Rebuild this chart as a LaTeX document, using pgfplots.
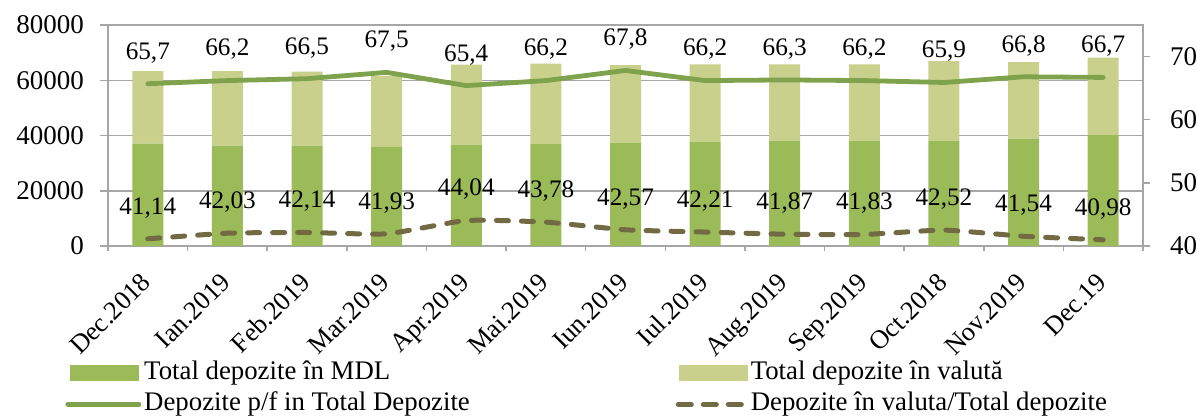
\documentclass[border=0pt]{standalone}
\usepackage{fontspec}
\setmainfont{Liberation Serif}
\usepackage{pgfplots}
\pgfplotsset{compat=1.18}
\usepackage{pgfplotstable}
\definecolor{mdl}{HTML}{9BBB59}
\definecolor{val}{HTML}{C9D08C}
\definecolor{pf}{HTML}{7FA34C}
\definecolor{vd}{HTML}{716A42}
\definecolor{grd}{HTML}{A6A6A6}
\newcommand\cf{\fontsize{12pt}{14pt}\selectfont}
\newcommand\lf{\fontsize{13.4pt}{15pt}\selectfont}
\newcommand\nf{\fontsize{12.6pt}{14pt}\selectfont}
\newcommand\tf{\fontsize{13.5pt}{15pt}\selectfont}
\newcommand\xf{\fontsize{13.2pt}{15pt}\selectfont}
\pgfplotsset{/pgf/number format/assume math mode=true}

\pgfplotstableread{
x mdl val
0 37030 26320
1 36300 27050
2 36300 26800
3 35900 25600
4 36670 28960
5 36920 29080
6 37400 28120
7 37650 28120
8 38120 27650
9 38120 27650
10 38120 28850
11 38840 27760
12 40180 27980
}\bars

\pgfplotstableread{
x pf pfl vd vdl
0 65.7 65,7 41.14 41,14
1 66.2 66,2 42.03 42,03
2 66.5 66,5 42.14 42,14
3 67.5 67,5 41.93 41,93
4 65.4 65,4 44.04 44,04
5 66.2 66,2 43.78 43,78
6 67.8 67,8 42.57 42,57
7 66.2 66,2 42.21 42,21
8 66.3 66,3 41.87 41,87
9 66.2 66,2 41.83 41,83
10 65.9 65,9 42.52 42,52
11 66.8 66,8 41.54 41,54
12 66.7 66,7 40.98 40,98
}\lines

\begin{document}
\begin{tikzpicture}
\begin{axis}[
  at={(0,0)}, anchor=south west,
  width=517.5pt, height=110.5pt, scale only axis,
  xmin=-0.5, xmax=12.5, ymin=0, ymax=80000,
  ytick={0,20000,40000,60000,80000},
  xtick={0,...,12},
  xticklabels={Dec.2018,Ian.2019,Feb.2019,Mar.2019,Apr.2019,Mai.2019,Iun.2019,Iul.2019,Aug.2019,Sep.2019,Oct.2018,Nov.2019,Dec.19},
  minor xtick={-0.5,0.5,...,12.5},
  tick align=outside, tick pos=left,
  ymajorgrids, grid style={grd, line width=0.75pt},
  axis line style={grd, line width=0.75pt},
  every tick/.style={grd, line width=0.75pt},
  every major x tick/.append style={draw=none},
  major tick length=4pt, minor tick length=2.5pt,
  tick label style={font=\cf, black},
  yticklabel style={font=\tf, xshift=-4.5pt, /pgf/number format/.cd, 1000 sep={}, fixed},
  scaled y ticks=false,
  xticklabel style={font=\xf, xshift=-4pt, yshift=-7pt, rotate=45, anchor=north east, inner sep=1pt},
  ybar stacked, bar width=15.5pt,
]
\addplot[fill=mdl, draw=none] table[x=x,y=mdl]{\bars};
\addplot[fill=val, draw=none] table[x=x,y=val]{\bars};
\end{axis}
\begin{axis}[
  at={(0,0)}, anchor=south west,
  width=517.5pt, height=110.5pt, scale only axis,
  xmin=-0.5, xmax=12.5, ymin=40, ymax=75,
  axis x line=none, axis y line*=right,
  ytick={40,50,60,70},
  tick align=outside, major tick length=3.5pt,
  axis line style={grd, line width=0.75pt},
  every tick/.style={grd, line width=0.75pt},
  tick label style={font=\tf, black},
  yticklabel style={xshift=6.5pt},
  legend columns=2, legend cell align=left,
  legend style={at={(-0.0415,-0.501)}, anchor=north west, draw=none, fill=none,
    font=\lf, inner sep=0pt, row sep=0pt,
    nodes={inner sep=1.5pt, text height=9.5pt, text depth=3.25pt},
    /tikz/every even column/.append style={column sep=101.5pt}},
]
\addlegendimage{legend image code/.code={\fill[mdl] (0pt,-3.75pt) rectangle (34pt,3.75pt);}}
\addlegendentry{Total depozite în MDL}
\addlegendimage{legend image code/.code={\fill[val] (0pt,-3.75pt) rectangle (34pt,3.75pt);}}
\addlegendentry{Total depozite în valută}
\addlegendimage{legend image code/.code={\draw[pf, line width=2.4pt, line cap=round] (-1.5pt,0pt) -- (34pt,0pt);}}
\addlegendentry{Depozite p/f in Total Depozite}
\addlegendimage{legend image code/.code={\draw[vd, line width=2.5pt, line cap=round, dash pattern=on 6.5pt off 6pt] (-0.5pt,0pt) -- (33pt,0pt);}}
\addlegendentry{Depozite în valuta/Total depozite}

\addplot[forget plot, pf, line width=2.4pt, line cap=round, line join=round,
  nodes near coords, point meta=explicit symbolic,
  every node near coord/.append style={font=\nf, text=black, anchor=center, yshift=15.5pt}]
  table[x=x, y=pf, meta=pfl]{\lines};
\addplot[forget plot, vd, line width=2.5pt, line cap=round, smooth, tension=0.3,
  dash pattern=on 6pt off 6.5pt,
  nodes near coords, point meta=explicit symbolic,
  every node near coord/.append style={font=\nf, text=black, anchor=center, yshift=15.5pt}]
  table[x=x, y=vd, meta=vdl]{\lines};
\end{axis}
\pgfresetboundingbox
\path (-54pt,-86.5pt) rectangle (544.5pt,123pt);
\end{tikzpicture}
\end{document}
